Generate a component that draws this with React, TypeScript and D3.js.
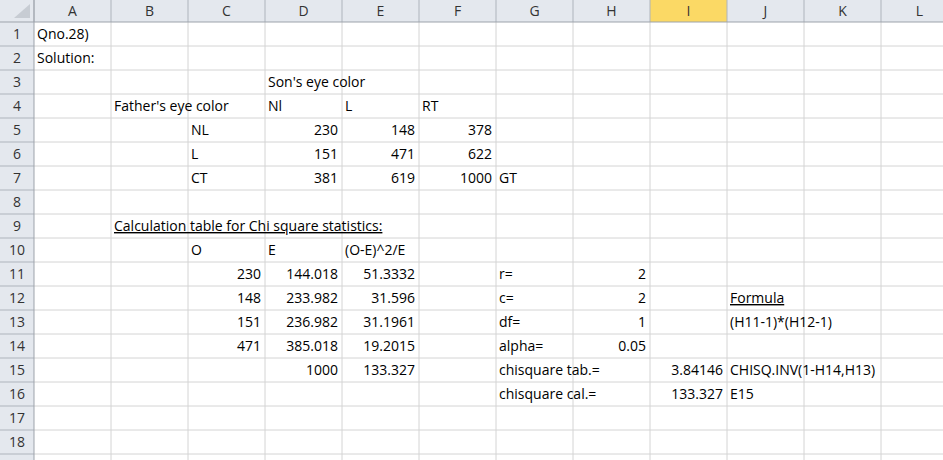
import React from "react";
import * as d3 from "d3";

const columns = ["A","B","C","D","E","F","G","H","I","J","K","L"];
const rowCount = 18;
// [row, colIndex, text, align, underline]
const cells: [number, number, string, string, boolean?][] = [
  [1,0,"Qno.28)","l"],[2,0,"Solution:","l"],
  [3,3,"Son's eye color","l"],
  [4,1,"Father's eye color","l"],[4,3,"Nl","l"],[4,4,"L","l"],[4,5,"RT","l"],
  [5,2,"NL","l"],[5,3,"230","r"],[5,4,"148","r"],[5,5,"378","r"],
  [6,2,"L","l"],[6,3,"151","r"],[6,4,"471","r"],[6,5,"622","r"],
  [7,2,"CT","l"],[7,3,"381","r"],[7,4,"619","r"],[7,5,"1000","r"],[7,6,"GT","l"],
  [9,1,"Calculation table for Chi square statistics:","l",true],
  [10,2,"O","l"],[10,3,"E","l"],[10,4,"(O-E)^2/E","l"],
  [11,2,"230","r"],[11,3,"144.018","r"],[11,4,"51.3332","r"],[11,6,"r=","l"],[11,7,"2","r"],
  [12,2,"148","r"],[12,3,"233.982","r"],[12,4,"31.596","r"],[12,6,"c=","l"],[12,7,"2","r"],[12,9,"Formula","l",true],
  [13,2,"151","r"],[13,3,"236.982","r"],[13,4,"31.1961","r"],[13,6,"df=","l"],[13,7,"1","r"],[13,9,"(H11-1)*(H12-1)","l"],
  [14,2,"471","r"],[14,3,"385.018","r"],[14,4,"19.2015","r"],[14,6,"alpha=","l"],[14,7,"0.05","r"],
  [15,3,"1000","r"],[15,4,"133.327","r"],[15,6,"chisquare tab.=","l"],[15,8,"3.84146","r"],[15,9,"CHISQ.INV(1-H14,H13)","l"],
  [16,6,"chisquare cal.=","l"],[16,8,"133.327","r"],[16,9,"E15","l"],
];

const W = 943, H = 460, HW = 34, HH = 22, CW = 77, RH = 24;

export default function App() {
  const x = d3.scaleLinear().domain([0, 1]).range([HW, HW + CW]);
  const y = d3.scaleLinear().domain([1, 2]).range([HH, HH + RH]);
  const rows = d3.range(1, rowCount + 1);
  const font = "Open Sans, sans-serif";
  return (
    <svg width={W} height={H} style={{ position: "absolute", left: 0, top: 0, background: "#fff" }} fontFamily={font} fontSize={14}>
      <rect x={0} y={0} width={W} height={H} fill="#fff" />
      {columns.map((c, i) => (
        <line key={"v" + i} x1={x(i + 1)} x2={x(i + 1)} y1={HH} y2={H} stroke="#d4d4d4" />
      ))}
      {rows.map((r) => (
        <line key={"h" + r} x1={HW} x2={W} y1={y(r + 1)} y2={y(r + 1)} stroke="#d4d4d4" />
      ))}
      <rect x={0} y={0} width={W} height={HH} fill="#e4e8ee" />
      <rect x={0} y={0} width={HW} height={H} fill="#e4e8ee" />
      <path d={`M${HW - 4},4 L${HW - 4},${HH - 4} L${HW - 20},${HH - 4} Z`} fill="#c7ccd3" />
      {columns.map((c, i) => (
        <g key={c}>
          {c === "I" && <rect x={x(i)} y={0} width={CW} height={HH} fill="#fbd965" />}
          <line x1={x(i)} x2={x(i)} y1={0} y2={HH} stroke="#aeb4bc" />
          <text x={x(i) + CW / 2} y={HH / 2 + 5} textAnchor="middle" fill="#333" fontSize={14}>{c}</text>
        </g>
      ))}
      <line x1={0} x2={W} y1={HH} y2={HH} stroke="#9da3ab" />
      {rows.map((r) => (
        <g key={"r" + r}>
          <line x1={0} x2={HW} y1={y(r + 1)} y2={y(r + 1)} stroke="#aeb4bc" />
          <text x={HW / 2} y={y(r) + RH / 2 + 5} textAnchor="middle" fill="#333" fontSize={14}>{r}</text>
        </g>
      ))}
      <line x1={HW} x2={HW} y1={0} y2={H} stroke="#9da3ab" />
      {cells.map(([r, c, t, a, u], k) => (
        <text key={k} x={a === "r" ? x(c + 1) - 4 : x(c) + 3} y={y(r) + RH / 2 + 5}
          textAnchor={a === "r" ? "end" : "start"} fill="#000" textDecoration={u ? "underline" : undefined}>{t}</text>
      ))}
    </svg>
  );
}
